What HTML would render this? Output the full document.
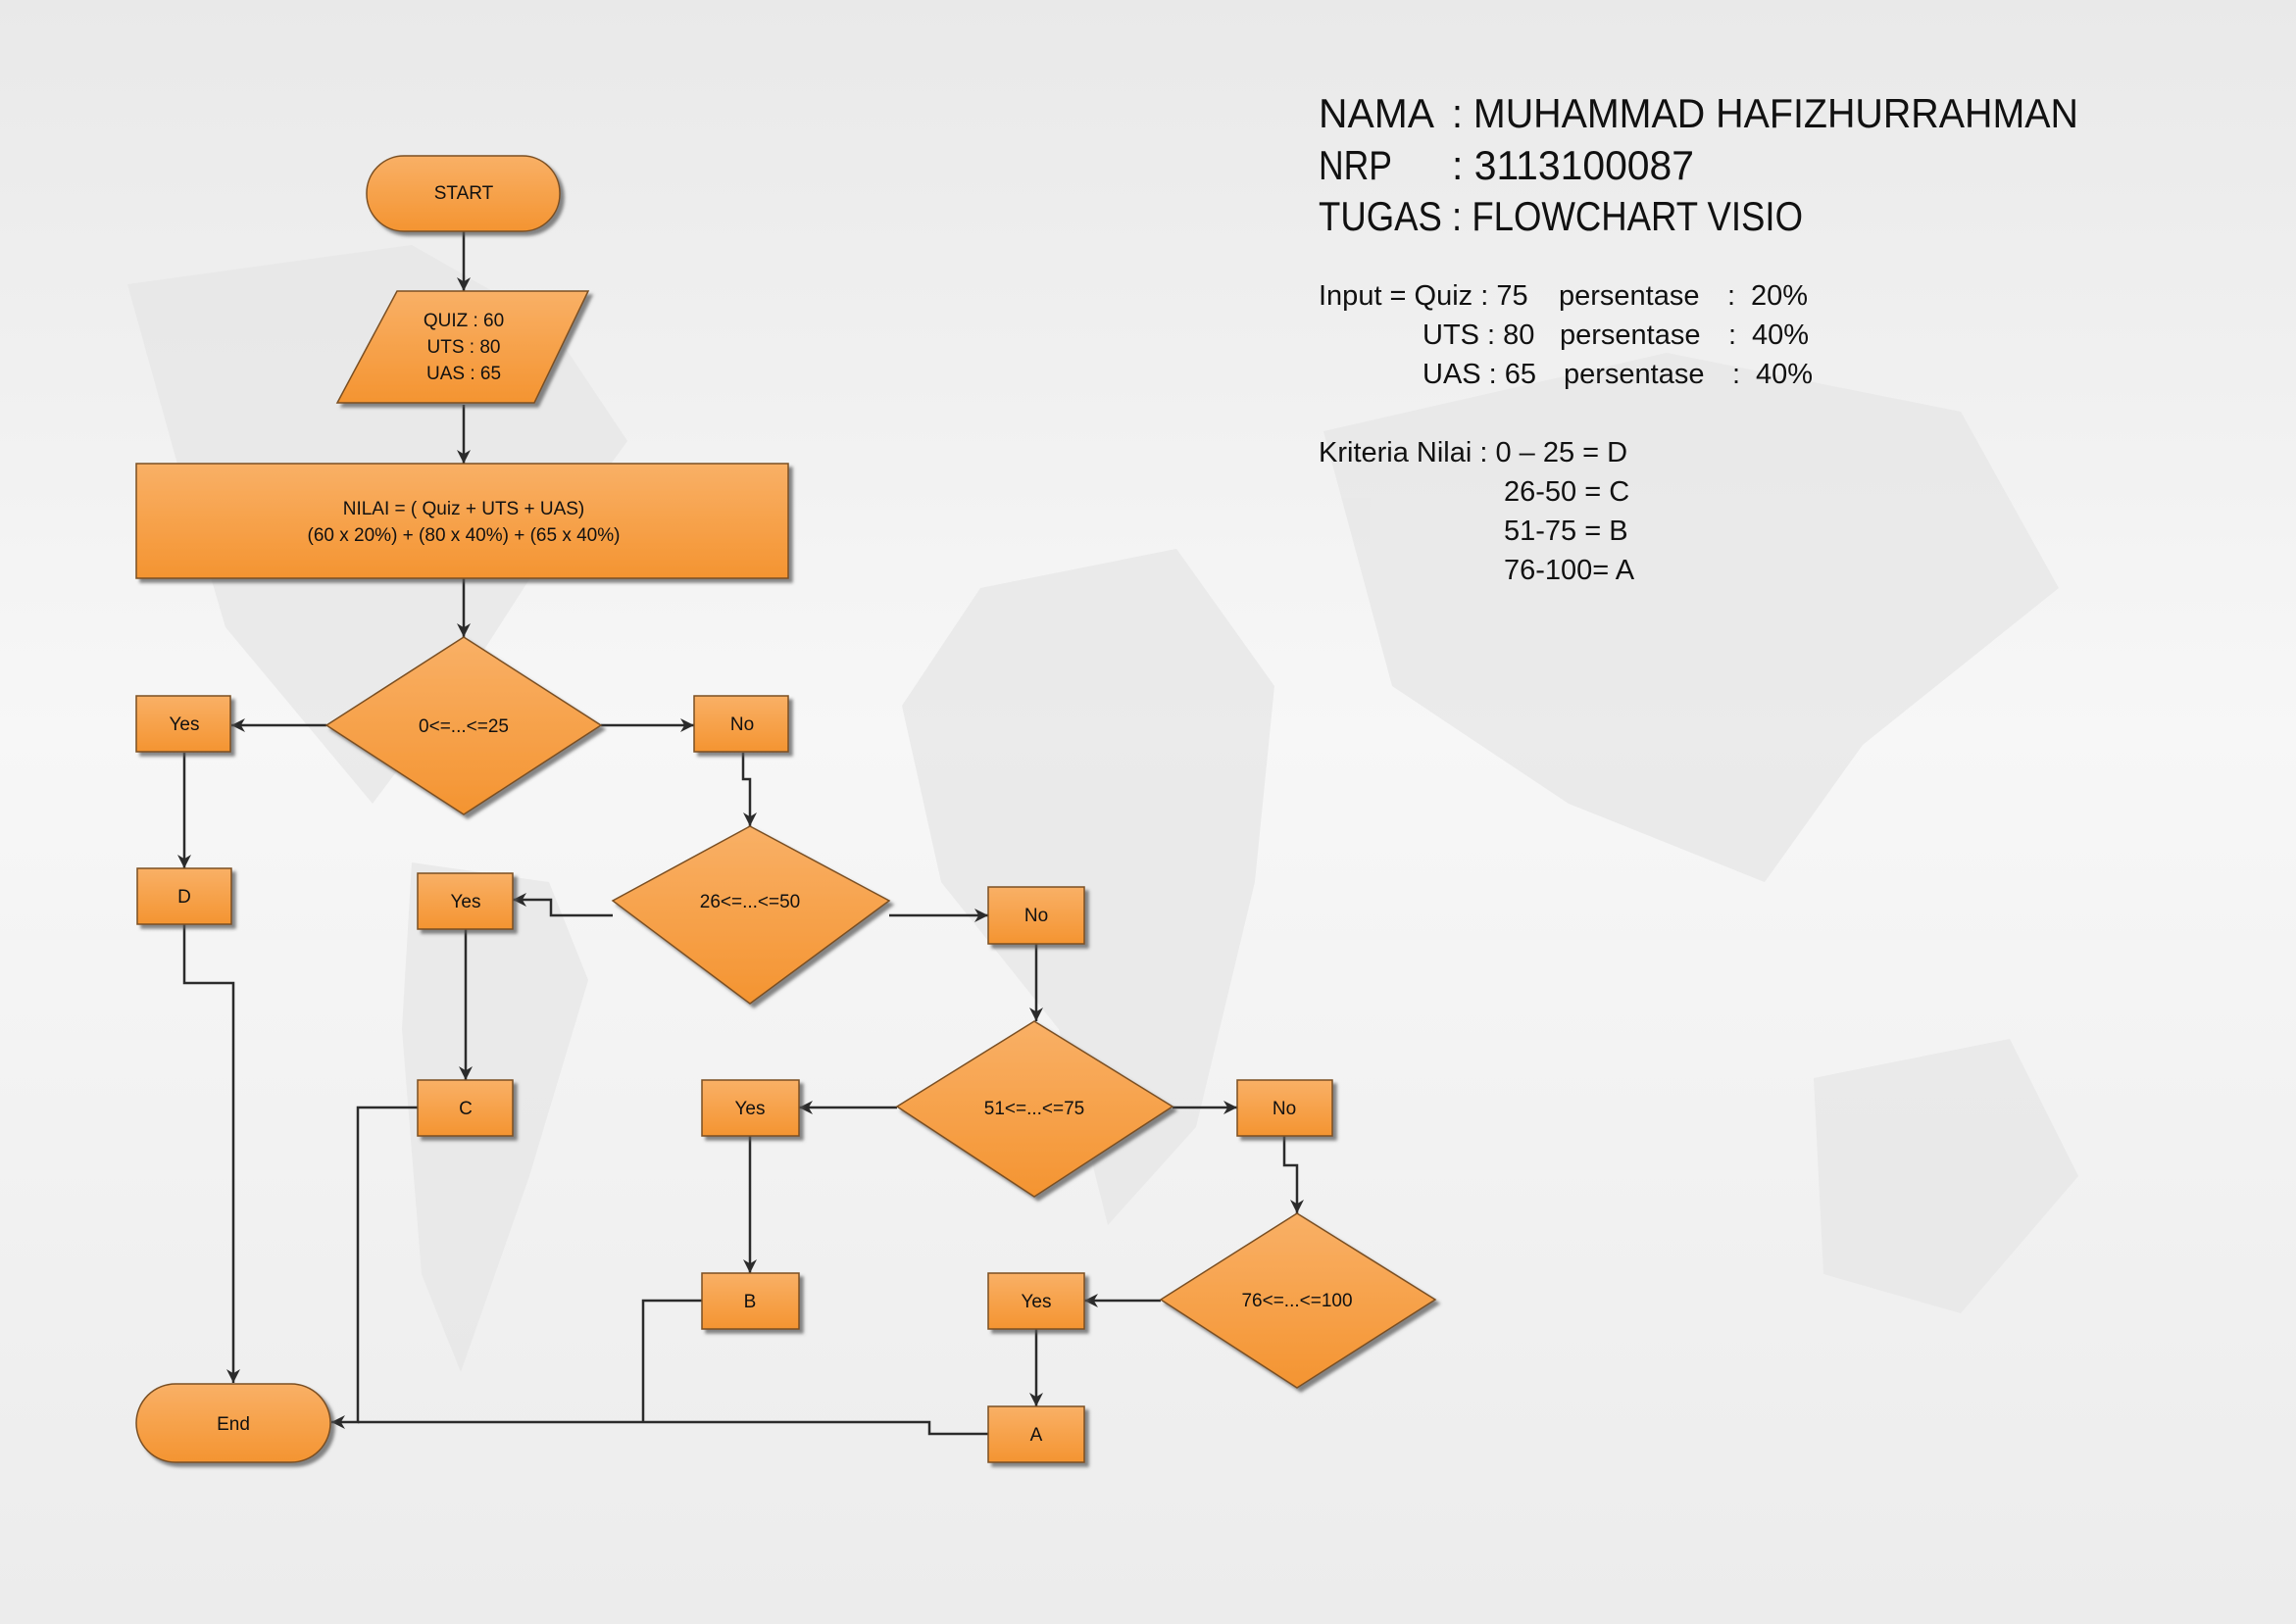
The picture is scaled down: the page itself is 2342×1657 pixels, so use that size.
<!DOCTYPE html>
<html><head><meta charset="utf-8"><style>
html,body{margin:0;padding:0;width:2342px;height:1657px;overflow:hidden;background:#f2f2f2}
svg{display:block}
text{font-family:"Liberation Sans",sans-serif;fill:#111}
</style></head><body>
<svg width="2342" height="1657" viewBox="0 0 2342 1657" xmlns="http://www.w3.org/2000/svg">
<defs>
<linearGradient id="bg" x1="0" y1="0" x2="0" y2="1">
<stop offset="0" stop-color="#e9e9e9"/><stop offset="0.45" stop-color="#f7f7f7"/><stop offset="1" stop-color="#ececec"/>
</linearGradient>
<linearGradient id="og" x1="0" y1="0" x2="0" y2="1">
<stop offset="0" stop-color="#f9b066"/><stop offset="1" stop-color="#f49431"/>
</linearGradient>
<marker id="ar" viewBox="0 0 10 10" refX="10" refY="5" markerWidth="14" markerHeight="14" markerUnits="userSpaceOnUse" orient="auto">
<path d="M0,0 L10,5 L0,10 L3,5 z" fill="#2b2b2b"/></marker>
<filter id="sh" x="-10%" y="-10%" width="130%" height="130%"><feDropShadow dx="4" dy="4" stdDeviation="1.5" flood-color="#555" flood-opacity="0.7"/></filter>
</defs>
<rect width="2342" height="1657" fill="url(#bg)"/>
<g fill="#e6e6e6" opacity="0.7">
<path d="M130,290 L420,250 L560,330 L640,450 L560,560 L470,700 L380,820 L330,760 L230,640 L180,470 Z"/>
<path d="M420,880 L560,900 L600,1000 L540,1200 L470,1400 L430,1300 L410,1050 Z"/>
<path d="M1000,600 L1200,560 L1300,700 L1280,900 L1220,1150 L1130,1250 L1080,1050 L960,900 L920,720 Z"/>
<path d="M1350,440 L1700,360 L2000,420 L2100,600 L1900,760 L1800,900 L1600,820 L1420,700 Z"/>
<path d="M1850,1100 L2050,1060 L2120,1200 L2000,1340 L1860,1300 Z"/>
</g>
<g font-size="42">
<text x="1345" y="130" textLength="118" lengthAdjust="spacingAndGlyphs">NAMA</text><text x="1481" y="130" textLength="639" lengthAdjust="spacingAndGlyphs">: MUHAMMAD HAFIZHURRAHMAN</text>
<text x="1345" y="183" textLength="75" lengthAdjust="spacingAndGlyphs">NRP</text><text x="1481" y="183" textLength="247" lengthAdjust="spacingAndGlyphs">: 3113100087</text>
<text x="1345" y="235" textLength="494" lengthAdjust="spacingAndGlyphs">TUGAS : FLOWCHART VISIO</text>
</g>
<g font-size="29">
<text x="1345" y="311">Input = Quiz : 75</text><text x="1590" y="311">persentase</text><text x="1762" y="311">:</text><text x="1786" y="311">20%</text>
<text x="1451" y="351">UTS  : 80</text><text x="1591" y="351">persentase</text><text x="1763" y="351">:</text><text x="1787" y="351">40%</text>
<text x="1451" y="391">UAS  : 65</text><text x="1595" y="391">persentase</text><text x="1767" y="391">:</text><text x="1791" y="391">40%</text>
<text x="1345" y="471">Kriteria Nilai : 0 – 25  = D</text>
<text x="1534" y="511">26-50  = C</text>
<text x="1534" y="551">51-75  = B</text>
<text x="1534" y="591">76-100= A</text>
</g>
<g stroke="#2b2b2b" stroke-width="2.5" fill="none" marker-end="url(#ar)">
<path d="M473,236 V297"/>
<path d="M473,413 V473"/>
<path d="M473,590 V650"/>
<path d="M333,740 H236"/>
<path d="M613,740 H708"/>
<path d="M188,768 V886"/>
<path d="M758,768 V795 H765 V843"/>
<path d="M625,934 H562 V918 H523"/>
<path d="M907,934 H1008"/>
<path d="M475,948 V1102"/>
<path d="M1057,963 V1042"/>
<path d="M188,943 V1003 H238 V1411"/>
<path d="M915,1130 H815"/>
<path d="M1196,1130 H1262"/>
<path d="M765,1159 V1299"/>
<path d="M1310,1159 V1189 H1323 V1238"/>
<path d="M1184,1327 H1106"/>
<path d="M1057,1356 V1435"/>
<path d="M426,1130 H365 V1451 H338"/>
</g>
<g stroke="#2b2b2b" stroke-width="2.5" fill="none">
<path d="M716,1327 H656 V1451"/>
<path d="M1008,1463 H948 V1451 H365"/>
</g>
<g fill="url(#og)" stroke="#7a4f24" stroke-width="1.5" filter="url(#sh)">
<rect x="374" y="159" width="197" height="77" rx="38"/>
<polygon points="405,297 600,297 545,411 344,411"/>
<rect x="139" y="473" width="665" height="117"/>
<polygon points="473,650 613,740 473,831 333,740"/>
<rect x="139" y="710" width="96" height="57"/>
<rect x="708" y="710" width="96" height="57"/>
<rect x="140" y="886" width="96" height="57"/>
<polygon points="765,843 907,919 765,1024 625,919"/>
<rect x="426" y="891" width="97" height="57"/>
<rect x="1008" y="905" width="98" height="58"/>
<rect x="426" y="1102" width="97" height="57"/>
<polygon points="1055,1042 1196,1129 1055,1221 915,1129"/>
<rect x="716" y="1102" width="99" height="57"/>
<rect x="1262" y="1102" width="97" height="57"/>
<rect x="716" y="1299" width="99" height="57"/>
<polygon points="1323,1238 1464,1326 1323,1416 1184,1326"/>
<rect x="1008" y="1299" width="98" height="57"/>
<rect x="1008" y="1435" width="98" height="57"/>
<rect x="139" y="1412" width="198" height="80" rx="40"/>
</g>
<g font-size="19" text-anchor="middle">
<text x="473" y="203">START</text>
<text x="473" y="333">QUIZ : 60</text>
<text x="473" y="360">UTS : 80</text>
<text x="473" y="387">UAS : 65</text>
<text x="473" y="525">NILAI = ( Quiz + UTS + UAS)</text>
<text x="473" y="552">(60 x 20%) + (80 x 40%) + (65 x 40%)</text>
<text x="473" y="747">0&lt;=...&lt;=25</text>
<text x="188" y="745">Yes</text>
<text x="757" y="745">No</text>
<text x="188" y="921">D</text>
<text x="765" y="926">26&lt;=...&lt;=50</text>
<text x="475" y="926">Yes</text>
<text x="1057" y="940">No</text>
<text x="475" y="1137">C</text>
<text x="1055" y="1137">51&lt;=...&lt;=75</text>
<text x="765" y="1137">Yes</text>
<text x="1310" y="1137">No</text>
<text x="765" y="1334">B</text>
<text x="1323" y="1333">76&lt;=...&lt;=100</text>
<text x="1057" y="1334">Yes</text>
<text x="1057" y="1470">A</text>
<text x="238" y="1459">End</text>
</g>
</svg>
</body></html>
